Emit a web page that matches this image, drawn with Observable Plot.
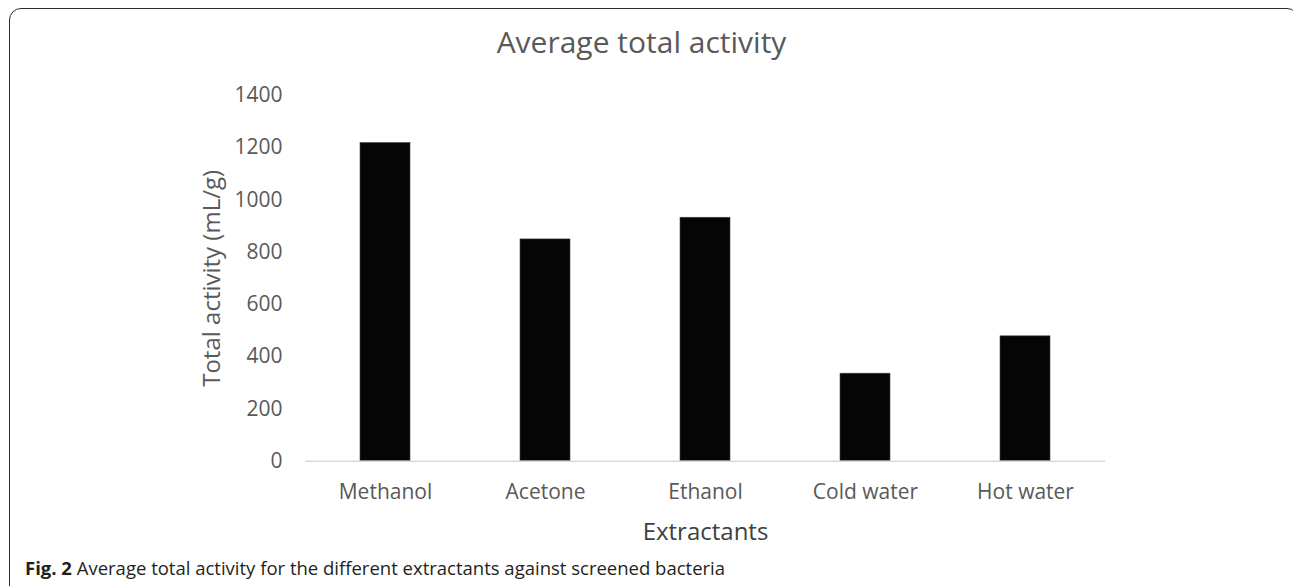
<!DOCTYPE html>
<html>
<head>
<meta charset="utf-8">
<script src="https://cdn.jsdelivr.net/npm/d3@7"></script>
<script src="https://cdn.jsdelivr.net/npm/@observablehq/plot@0.6"></script>
<style>
  html, body { margin: 0; padding: 0; background: #fff; }
  #wrap { position: relative; width: 1293px; height: 586px; overflow: hidden; font-family: "Open Sans", sans-serif; }
  #border { position: absolute; left: 9px; top: 8px; width: 1290px; height: 600px; border: 1.5px solid #2b2b2b; border-radius: 12px; box-sizing: border-box; }
  #title { position: absolute; left: -5px; width: 1293px; top: 21px; text-align: center; font-size: 30px; color: #595959; line-height: 42px; }
  #chart { position: absolute; left: 0; top: 80px; }
  #caption { position: absolute; left: 25px; top: 555px; font-size: 18.5px; color: #231f20; line-height: 26px; white-space: nowrap; }
</style>
</head>
<body>
<div id="wrap">
  <div id="border"></div>
  <div id="title">Average total activity</div>
  <div id="chart"></div>
  <div id="caption"><b>Fig. 2</b> Average total activity for the different extractants against screened bacteria</div>
</div>
<script>
const categories = ["Methanol", "Acetone", "Ethanol", "Cold water", "Hot water"];
const values = [1218, 849, 932, 335, 478];
const yTicks = [0, 200, 400, 600, 800, 1000, 1200, 1400];
const xLabel = "Extractants";
const yLabel = "Total activity (mL/g)";

const data = categories.map((c, i) => ({ category: c, value: values[i] }));

const plot = Plot.plot({
  width: 1293,
  height: 470,
  marginLeft: 305,
  marginRight: 188,
  marginTop: 15,
  marginBottom: 89.3,
  style: { fontFamily: "'Open Sans', sans-serif", fontSize: "21px", color: "#595959", background: "transparent" },
  x: { domain: categories, paddingInner: 0.6875, paddingOuter: 0.34375, label: null },
  y: { domain: [0, 1400], label: null },
  marks: [
    Plot.barY(data, { x: "category", y: "value", fill: "#050505", stroke: "#444", strokeWidth: 0.6 }),
    Plot.ruleY([0], { stroke: "#d9d9d9", strokeWidth: 1.5 }),
    Plot.axisY({ ticks: yTicks, tickFormat: d3.format("d"), tickSize: 0, tickPadding: 23, label: null, fill: "#595959", fontSize: 21 }),
    Plot.axisX({ tickSize: 0, tickPadding: 23, label: null, fill: "#595959", fontSize: 21 }),
    Plot.text([yLabel], { frameAnchor: "left", textAnchor: "middle", dx: -93, rotate: -90, text: d => d, fontSize: 24, fill: "#595959" }),
    Plot.text([xLabel], { frameAnchor: "bottom", dy: 79, text: d => d, fontSize: 24, fill: "#404040" })
  ]
});
document.getElementById("chart").appendChild(plot);
</script>
</body>
</html>
